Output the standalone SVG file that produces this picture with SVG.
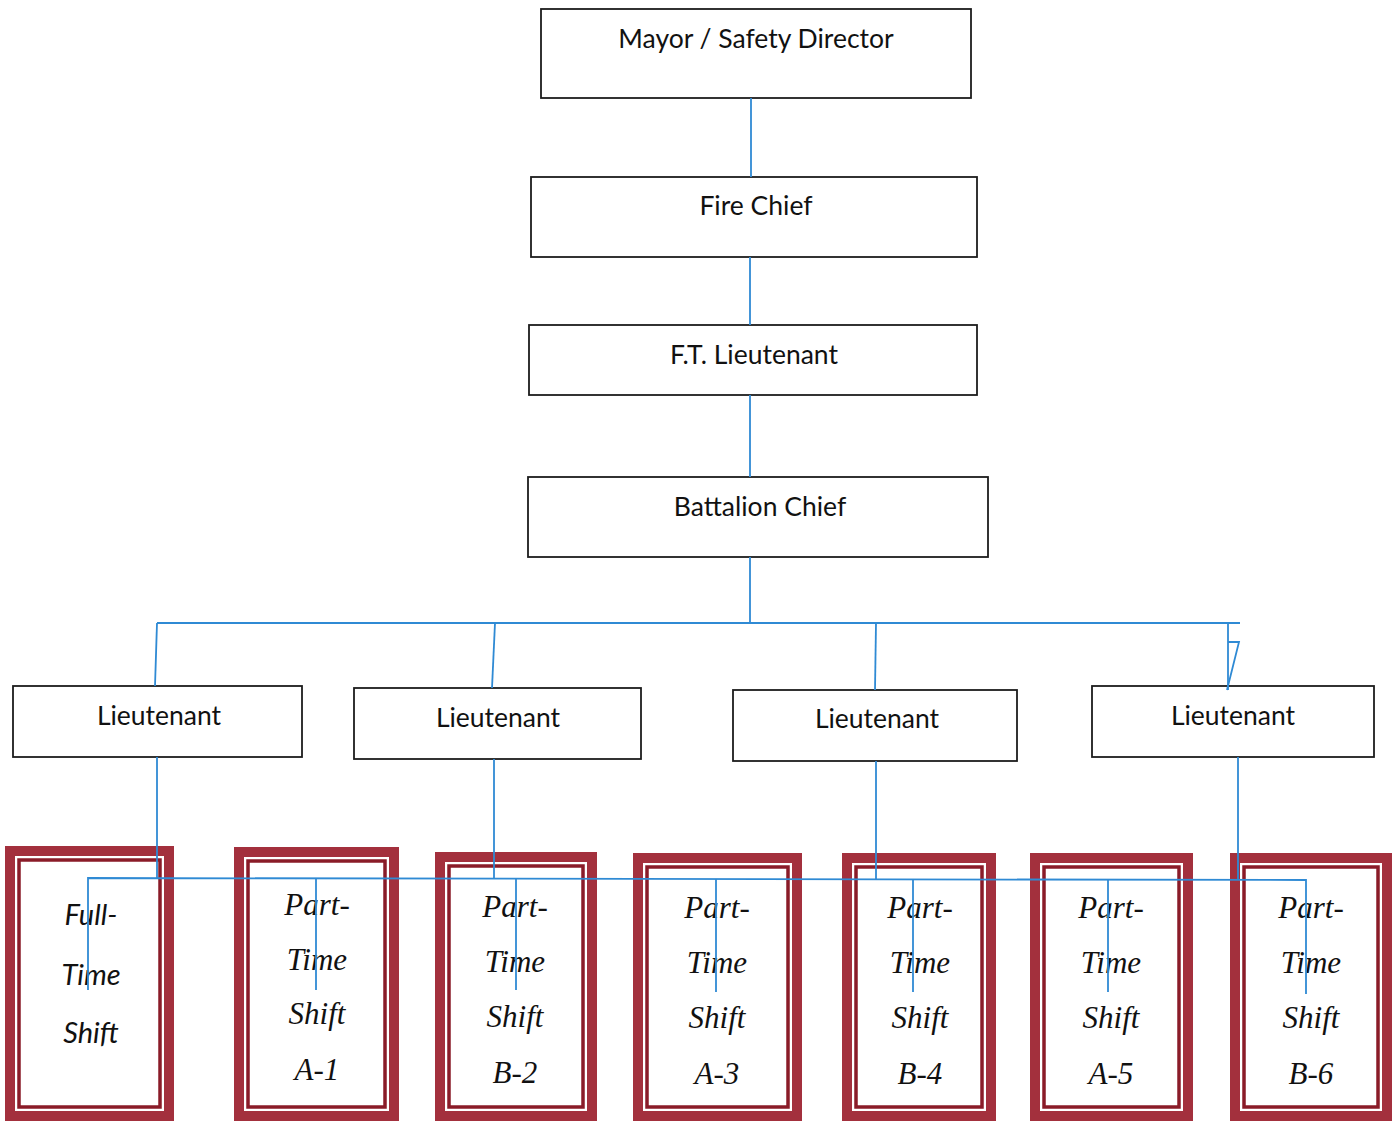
<svg xmlns="http://www.w3.org/2000/svg" width="1392" height="1121" viewBox="0 0 1392 1121">
  <style>
    .box { fill: #ffffff; stroke: #1c1c1c; stroke-width: 1.8; }
    .lbl { font-family: Lato, "Open Sans", sans-serif; font-size: 26.5px; fill: #111111; text-anchor: middle; }
    .band { fill: #ffffff; stroke: #a3303d; stroke-width: 10; }
    .rule { fill: none; stroke: #8a1b28; stroke-width: 3.5; }
    .shift { font-family: "Liberation Serif", "Times New Roman", serif; font-style: italic; font-size: 31px; fill: #111111; text-anchor: middle; }
    .full { font-family: Lato, "Open Sans", sans-serif; font-style: italic; font-size: 29px; fill: #111111; text-anchor: middle; }
    .wire { fill: none; stroke: #2f8ad4; stroke-width: 1.8; }
  </style>

  <!-- command chain -->
  <g id="mayor">
    <rect class="box" x="541" y="9" width="430" height="89"/>
    <text class="lbl" x="756" y="48">Mayor / Safety Director</text>
  </g>
  <g id="fire-chief">
    <rect class="box" x="531" y="177" width="446" height="80"/>
    <text class="lbl" x="756" y="215">Fire Chief</text>
  </g>
  <g id="ft-lieutenant">
    <rect class="box" x="529" y="325" width="448" height="70"/>
    <text class="lbl" x="754" y="364">F.T. Lieutenant</text>
  </g>
  <g id="battalion-chief">
    <rect class="box" x="528" y="477" width="460" height="80"/>
    <text class="lbl" x="760" y="516">Battalion Chief</text>
  </g>

  <!-- lieutenants -->
  <g id="lieutenant-1">
    <rect class="box" x="13" y="686" width="289" height="71"/>
    <text class="lbl" x="159" y="725">Lieutenant</text>
  </g>
  <g id="lieutenant-2">
    <rect class="box" x="354" y="688" width="287" height="71"/>
    <text class="lbl" x="498" y="727">Lieutenant</text>
  </g>
  <g id="lieutenant-3">
    <rect class="box" x="733" y="690" width="284" height="71"/>
    <text class="lbl" x="877" y="728">Lieutenant</text>
  </g>
  <g id="lieutenant-4">
    <rect class="box" x="1092" y="686" width="282" height="71"/>
    <text class="lbl" x="1233" y="725">Lieutenant</text>
  </g>

  <!-- shift frames -->
  <g id="shift-full-time">
    <rect class="band" x="10" y="851" width="159" height="265"/>
    <rect class="rule" x="19" y="860" width="141" height="247"/>
    <text class="full" x="91" y="925">Full-</text>
    <text class="full" x="91" y="985">Time</text>
    <text class="full" x="91" y="1043">Shift</text>
  </g>
  <g id="shift-a1">
    <rect class="band" x="239" y="852" width="155" height="264"/>
    <rect class="rule" x="248" y="861" width="137" height="246"/>
    <text class="shift" x="317" y="915">Part-</text>
    <text class="shift" x="317" y="970">Time</text>
    <text class="shift" x="317" y="1024">Shift</text>
    <text class="shift" x="317" y="1080">A-1</text>
  </g>
  <g id="shift-b2">
    <rect class="band" x="440" y="857" width="152" height="259"/>
    <rect class="rule" x="449" y="866" width="134" height="241"/>
    <text class="shift" x="515" y="917">Part-</text>
    <text class="shift" x="515" y="972">Time</text>
    <text class="shift" x="515" y="1027">Shift</text>
    <text class="shift" x="515" y="1083">B-2</text>
  </g>
  <g id="shift-a3">
    <rect class="band" x="638" y="858" width="159" height="258"/>
    <rect class="rule" x="647" y="867" width="141" height="240"/>
    <text class="shift" x="717" y="918">Part-</text>
    <text class="shift" x="717" y="973">Time</text>
    <text class="shift" x="717" y="1028">Shift</text>
    <text class="shift" x="717" y="1084">A-3</text>
  </g>
  <g id="shift-b4">
    <rect class="band" x="847" y="858" width="144" height="258"/>
    <rect class="rule" x="856" y="867" width="126" height="240"/>
    <text class="shift" x="920" y="918">Part-</text>
    <text class="shift" x="920" y="973">Time</text>
    <text class="shift" x="920" y="1028">Shift</text>
    <text class="shift" x="920" y="1084">B-4</text>
  </g>
  <g id="shift-a5">
    <rect class="band" x="1035" y="858" width="153" height="258"/>
    <rect class="rule" x="1044" y="867" width="135" height="240"/>
    <text class="shift" x="1111" y="918">Part-</text>
    <text class="shift" x="1111" y="973">Time</text>
    <text class="shift" x="1111" y="1028">Shift</text>
    <text class="shift" x="1111" y="1084">A-5</text>
  </g>
  <g id="shift-b6">
    <rect class="band" x="1235" y="858" width="152" height="258"/>
    <rect class="rule" x="1244" y="867" width="134" height="240"/>
    <text class="shift" x="1311" y="918">Part-</text>
    <text class="shift" x="1311" y="973">Time</text>
    <text class="shift" x="1311" y="1028">Shift</text>
    <text class="shift" x="1311" y="1084">B-6</text>
  </g>

  <!-- connectors -->
  <g id="connectors">
    <path class="wire" d="M751,98 V177"/>
    <path class="wire" d="M750,257 V325"/>
    <path class="wire" d="M750,395 V477"/>
    <path class="wire" d="M750,557 V623"/>
    <path class="wire" d="M157,623 H1240"/>
    <path class="wire" d="M157,623 L155,686"/>
    <path class="wire" d="M495,623 L492,688"/>
    <path class="wire" d="M876,623 L875,690"/>
    <path class="wire" d="M1228,623 V690"/>
    <path class="wire" d="M1228,642 H1239 L1227,690"/>
    <path class="wire" d="M157,757 V878"/>
    <path class="wire" d="M494,759 V878"/>
    <path class="wire" d="M876,761 V879"/>
    <path class="wire" d="M1238,757 V880"/>
    <path class="wire" d="M88,990 V878 L1306,880 V994"/>
    <path class="wire" d="M316,878 V990"/>
    <path class="wire" d="M516,878 V990"/>
    <path class="wire" d="M716,879 V992"/>
    <path class="wire" d="M913,879 V992"/>
    <path class="wire" d="M1108,880 V992"/>
  </g>
</svg>
